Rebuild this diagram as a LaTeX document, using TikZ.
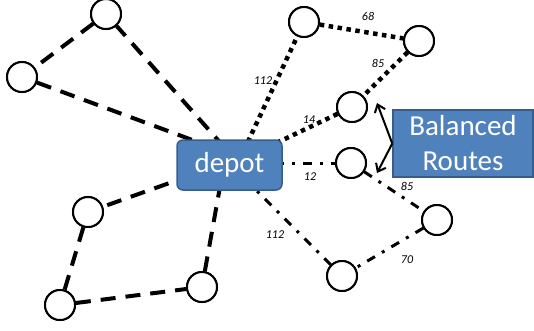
\documentclass[tikz,border=0pt]{standalone}
\usepackage{fontspec}
\setmainfont{Carlito}
\usetikzlibrary{arrows.meta}
\definecolor{boxfill}{HTML}{4F81BD}
\definecolor{boxline}{HTML}{385D8A}
\tikzset{
  site/.style={circle, draw, line width=2pt, fill=white, minimum size=30pt, inner sep=0pt},
  routeA/.style={line width=4pt, dash pattern=on 15pt off 10pt},
  routeB/.style={line width=4.5pt, dash pattern=on 4.5pt off 4.5pt},
  routeC/.style={line width=3pt, dash pattern=on 9pt off 8pt on 3pt off 8pt},
  dist/.style={font=\fontsize{12}{12}\selectfont\itshape, inner sep=1pt},
  bluebox/.style={draw=boxline, line width=1.5pt, fill=boxfill, text=white, align=center, font=\fontsize{29}{35}\selectfont},
  pointer/.style={line width=2pt, -{Straight Barb[length=7pt,width=11pt,line width=2pt]}}
}
\begin{document}
\begin{tikzpicture}[x=1pt,y=-1pt]
\useasboundingbox (0,0) rectangle (534,330);
% sites
\node[site] (A) at (106,14) {};
\node[site] (B) at (22,77) {};
\node[site] (C) at (304,22) {};
\node[site] (D) at (419,41) {};
\node[site] (E) at (352,107) {};
\node[site] (F) at (351,163) {};
\node[site] (G) at (437,220) {};
\node[site] (H) at (342,276) {};
\node[site] (I) at (88,212) {};
\node[site] (J) at (60,305) {};
\node[site] (K) at (202,287) {};
% depot entry points (hidden under the box)
\coordinate (dA) at (225,148);
\coordinate (dB) at (214,148);
\coordinate (dI) at (192,175);
\coordinate (dK) at (223,170);
\coordinate (dC) at (244,150);
\coordinate (dE) at (270,146);
\coordinate (dF) at (275,163);
\coordinate (dH) at (244,178);
% route 1
\draw[routeA] (dA) -- (A);
\draw[routeA] (A) -- (B);
\draw[routeA] (B) -- (dB);
% route 2
\draw[routeA] (dI) -- (I);
\draw[routeA] (I) -- (J);
\draw[routeA] (J) -- (K);
\draw[routeA] (K) -- (dK);
% route 3
\draw[routeB] (dC) -- (C);
\draw[routeB] (C) -- (D);
\draw[routeB] (D) -- (E);
\draw[routeB] (E) -- (dE);
% route 4
\draw[routeC] (dF) -- (F);
\draw[routeC] (F) -- (G);
\draw[routeC] (G) -- (H);
\draw[routeC] (H) -- (dH);
% redraw sites on top of lines
\foreach \n/\p in {A/{(106,14)},B/{(22,77)},C/{(304,22)},D/{(419,41)},E/{(352,107)},F/{(351,163)},G/{(437,220)},H/{(342,276)},I/{(88,212)},J/{(60,305)},K/{(202,287)}}
  \node[site] at \p {};
% distances
\node[dist] (l1) at (263,81) {112};
\node[dist] (l2) at (368,16) {68};
\node[dist] (l3) at (378,63) {85};
\node[dist] (l4) at (309,120) {14};
\node[dist] (l5) at (310,177) {12};
\node[dist] (l6) at (407,186) {85};
\node[dist] (l7) at (275,235) {112};
\node[dist] (l8) at (407,260) {70};
% boxes
\node[bluebox, rounded corners=6pt, minimum width=105pt, minimum height=50pt, inner sep=0pt] (depot) at (229.5,165) {depot};
\node[bluebox, minimum width=140pt, minimum height=67pt, inner sep=0pt] (br) at (463,143.5) {Balanced\\Routes};
% pointers
\coordinate (t1) at (377,103);
\coordinate (t2) at (377,173);
\draw[pointer] (br.west) -- (t1);
\draw[pointer] (br.west) -- (t2);
\end{tikzpicture}
\end{document}
